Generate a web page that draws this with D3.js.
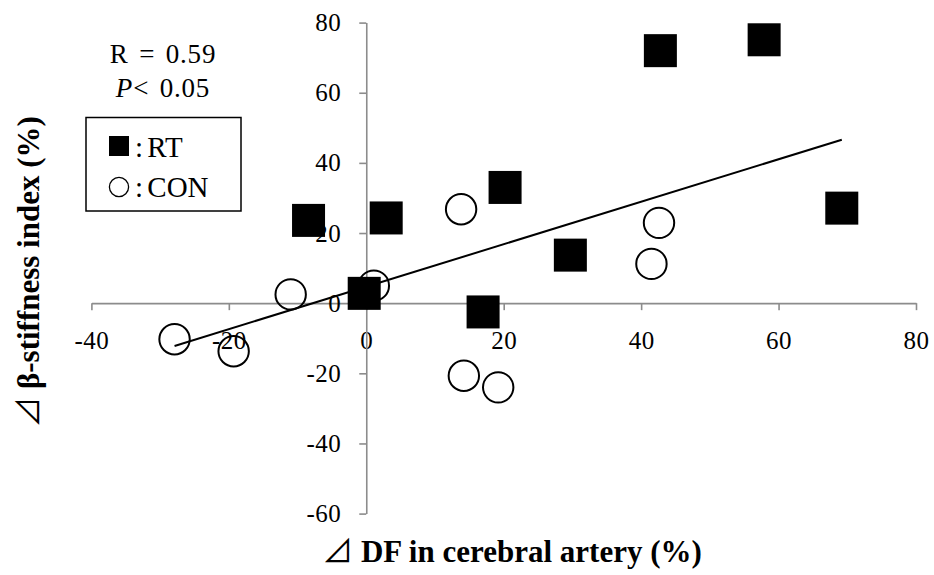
<!DOCTYPE html>
<html>
<head>
<meta charset="utf-8">
<script src="https://cdn.jsdelivr.net/npm/d3@7"></script>
<style>
  body { margin: 0; background: #fff; }
  svg { display: block; }
</style>
</head>
<body>
<svg id="chart" width="934" height="575"></svg>
<script>
// ΔDF in cerebral artery (%) vs Δβ-stiffness index (%)
const rtDF      = [-8.4, -0.3, 2.9, 17.0, 20.2, 29.7, 42.8, 57.9, 69.2];
const rtBeta    = [23.6, 2.8, 24.3, -2.5, 33.0, 13.7, 72.0, 75.1, 27.1];
const conDF     = [-27.9, -19.3, -11.0, 1.1, 13.8, 14.2, 19.2, 41.5, 42.6];
const conBeta   = [-10.3, -13.7, 2.5, 5.0, 26.8, -20.7, -24.0, 11.2, 22.9];
// regression line end points
const trendDF   = [-27.9, 69.2];
const trendBeta = [-12.2, 46.6];

const xTicks = [-40, -20, 0, 20, 40, 60, 80];
const yTicks = [-60, -40, -20, 0, 20, 40, 60, 80];
const statLines = ["R = 0.59", "P< 0.05"];
const legendLabels = ["RT", "CON"];

const svg = d3.select("#chart");
const serif = "'Liberation Serif', 'Times New Roman', serif";
const triFont = "'Noto Sans CJK JP', 'DejaVu Sans', sans-serif";
const axisColor = "#8c8c8c";

const x = d3.scaleLinear().domain([-40, 80]).range([91.4, 916]);
const y = d3.scaleLinear().domain([-60, 80]).range([513.6, 22.6]);

// axes crossing at the origin
const xAxis = d3.axisBottom(x).tickValues(xTicks).tickSize(7).tickSizeOuter(0)
  .tickPadding(21).tickFormat(d => String(d));
const yAxis = d3.axisLeft(y).tickValues(yTicks).tickSize(7).tickSizeOuter(0)
  .tickPadding(18).tickFormat(d => String(d));

function styleAxis(g) {
  g.select(".domain").attr("stroke", axisColor).attr("stroke-width", 1.6);
  g.selectAll(".tick line").attr("stroke", axisColor).attr("stroke-width", 1.6);
  g.selectAll(".tick text").attr("fill", "#000")
    .style("font-family", serif).style("font-size", "25px")
    .style("letter-spacing", "0.5px");
}

svg.append("g").attr("transform", `translate(0,${y(0)})`).call(xAxis).call(styleAxis);
svg.append("g").attr("transform", `translate(${x(0)},0)`).call(yAxis).call(styleAxis);

// markers
const sq = 33;
svg.append("g").selectAll("rect")
  .data(d3.zip(rtDF, rtBeta))
  .join("rect")
  .attr("x", d => x(d[0]) - sq / 2)
  .attr("y", d => y(d[1]) - sq / 2)
  .attr("width", sq).attr("height", sq)
  .attr("fill", "#000");

svg.append("g").selectAll("circle")
  .data(d3.zip(conDF, conBeta))
  .join("circle")
  .attr("cx", d => x(d[0]))
  .attr("cy", d => y(d[1]))
  .attr("r", 15.2)
  .attr("fill", "none")
  .attr("stroke", "#000")
  .attr("stroke-width", 2);

// trend line
svg.append("line")
  .attr("x1", x(trendDF[0])).attr("y1", y(trendBeta[0]))
  .attr("x2", x(trendDF[1])).attr("y2", y(trendBeta[1]))
  .attr("stroke", "#000").attr("stroke-width", 2);

// correlation statistics
const stat = svg.append("g").attr("font-family", serif).attr("font-size", 27)
  .attr("text-anchor", "middle").attr("word-spacing", 3).attr("letter-spacing", 0.8);
stat.append("text").attr("x", 163).attr("y", 63).text(statLines[0]);
const pText = stat.append("text").attr("x", 163).attr("y", 97);
pText.append("tspan").attr("font-style", "italic").text(statLines[1].slice(0, 1));
pText.append("tspan").text(statLines[1].slice(1));

// legend
const lg = svg.append("g");
lg.append("rect").attr("x", 86).attr("y", 117.5).attr("width", 155).attr("height", 93.5)
  .attr("fill", "#fff").attr("stroke", "#000").attr("stroke-width", 1.5);
lg.append("rect").attr("x", 109).attr("y", 136).attr("width", 20).attr("height", 20).attr("fill", "#000");
lg.append("circle").attr("cx", 119).attr("cy", 187).attr("r", 9.6)
  .attr("fill", "none").attr("stroke", "#000").attr("stroke-width", 1.3);
lg.selectAll("text.lab").data(legendLabels).join("text").attr("class", "lab")
  .attr("x", 135).attr("y", (d, i) => 156.5 + i * 40)
  .attr("font-family", serif).attr("font-size", 29).attr("word-spacing", -3)
  .text(d => ": " + d);

// axis titles
const xt = svg.append("text").attr("x", 512).attr("y", 562).attr("text-anchor", "middle")
  .attr("font-family", serif).attr("font-size", 31).attr("font-weight", "bold");
xt.append("tspan").attr("font-family", triFont).attr("font-weight", "normal").text("⊿");
xt.append("tspan").text(" DF in cerebral artery (%)");

const yt = svg.append("text").attr("transform", "translate(39,272) rotate(-90)")
  .attr("text-anchor", "middle")
  .attr("font-family", serif).attr("font-size", 31).attr("font-weight", "bold");
yt.append("tspan").attr("font-family", triFont).attr("font-weight", "normal").text("⊿");
yt.append("tspan").text(" β-stiffness index (%)");
</script>
</body>
</html>
